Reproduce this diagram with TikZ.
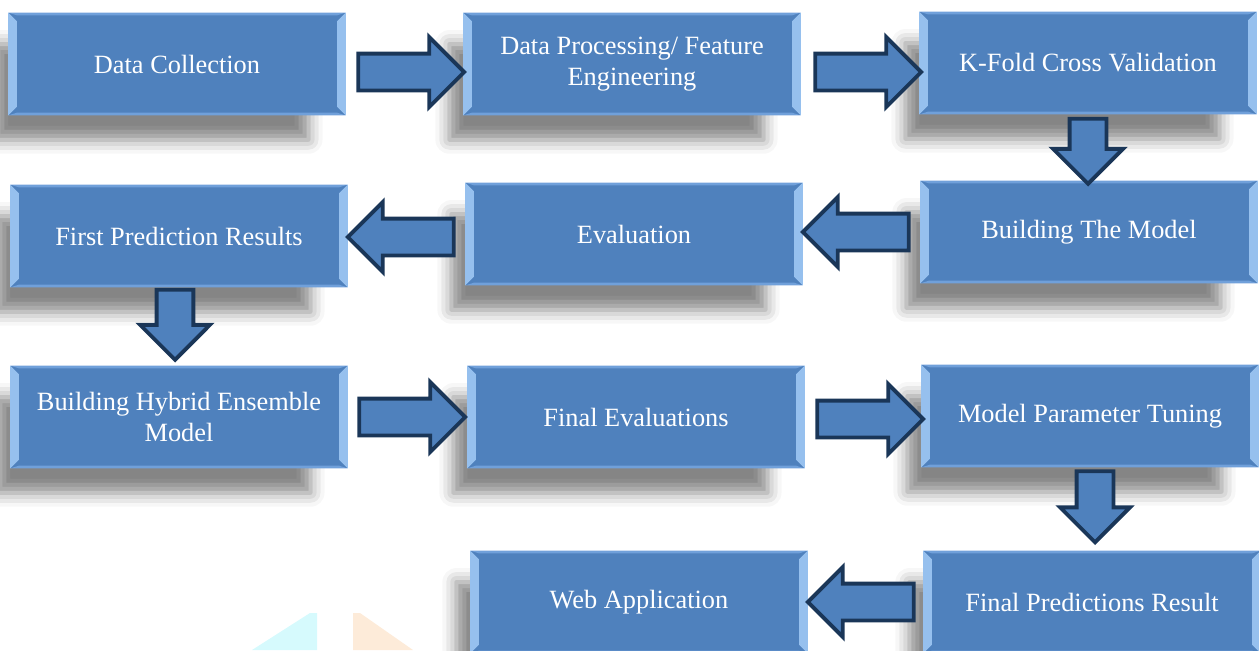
\documentclass[tikz,border=0pt]{standalone}
\usepackage{fontspec}
\setmainfont{Liberation Serif}
\usetikzlibrary{shapes.arrows}
\usetikzlibrary{shadows.blur}
\usetikzlibrary{calc}
\definecolor{boxblue}{RGB}{79,129,189}
\definecolor{bevellight}{RGB}{150,192,238}
\definecolor{bevelmid}{RGB}{112,160,218}
\definecolor{navy}{RGB}{26,54,88}
\definecolor{markcyan}{RGB}{214,250,253}
\definecolor{markpeach}{RGB}{253,235,217}
\newcommand\stagebevel{%
  \coordinate (bnw) at (path picture bounding box.north west);
  \coordinate (bne) at (path picture bounding box.north east);
  \coordinate (bsw) at (path picture bounding box.south west);
  \coordinate (bse) at (path picture bounding box.south east);
  \fill[bevelmid] (bnw) -- (bne) -- ([shift={(-5pt,-1.6pt)}]bne) -- ([shift={(5pt,-1.6pt)}]bnw) -- cycle;
  \fill[bevelmid] (bsw) -- (bse) -- ([shift={(-5pt,1.6pt)}]bse) -- ([shift={(5pt,1.6pt)}]bsw) -- cycle;
  \fill[bevellight] (bnw) -- ([shift={(5pt,-5pt)}]bnw) -- ([shift={(5pt,5pt)}]bsw) -- (bsw) -- cycle;
  \fill[bevellight] (bne) -- ([shift={(-5pt,-5pt)}]bne) -- ([shift={(-5pt,5pt)}]bse) -- (bse) -- cycle;
}

\begin{document}
\begin{tikzpicture}[x=0.02cm,y=-0.02cm]
  \tikzstyle{stage}=[rectangle, fill=boxblue, text=white, minimum width=6.76cm, minimum height=2.06cm,
    inner sep=0pt, align=center, font=\fontsize{15}{17.5}\selectfont,
    blur shadow={shadow xshift=-0.55cm, shadow yshift=-0.6cm, shadow scale=0.93,
      shadow blur radius=0.3cm, shadow opacity=48},
    path picture={\stagebevel}]
  \tikzstyle{flow}=[single arrow, draw=navy, fill=boxblue, line width=2.2pt, inner sep=0.33cm,
    single arrow head extend=0.33cm, single arrow head indent=0pt, anchor=tail]
  \tikzstyle{across}=[flow, minimum height=2.12cm]
  \tikzstyle{back}=[flow, minimum height=2.12cm, shape border rotate=180]
  \tikzstyle{down}=[flow, minimum height=1.4cm, shape border rotate=270]
  \useasboundingbox (0,0) rectangle (1259,650);
  % faint marks at the foot
  \fill[markcyan] (252,650) -- (310,613) -- (317,613) -- (317,650) -- cycle;
  \fill[markpeach] (353,650) -- (353,613) -- (360,613) -- (413,650) -- cycle;
  % stages
  \node (collection) at (177,64) [stage] {Data Collection};
  \node (processing) at (632,64) [stage] {Data Processing/ Feature\\Engineering};
  \node (kfold) at (1088,63) [stage] {K-Fold Cross Validation};
  \node (building) at (1089,232) [stage] {Building The Model};
  \node (evaluation) at (634,234) [stage] {Evaluation};
  \node (firstpred) at (179,236) [stage] {First Prediction Results};
  \node (hybrid) at (179,417) [stage] {Building Hybrid Ensemble\\Model};
  \node (finaleval) at (636,417) [stage] {Final Evaluations};
  \node (tuning) at (1090,416) [stage] {Model Parameter Tuning};
  \node (finalpred) at (1092,602) [stage] {Final Predictions Result};
  \node (webapp) at (639,602) [stage] {Web Application};
  % block arrows, placed by their tails
  \node (go1) at ($(collection.east)+(10,8)$) [across] {};
  \node (go2) at ($(processing.east)+(12,8)$) [across] {};
  \node (go3) at ($(kfold.south)+(0,2)$) [down, minimum height=1.3cm] {};
  \node (go4) at ($(building.west)+(-9,0)$) [back] {};
  \node (go5) at ($(evaluation.west)+(-9,3)$) [back] {};
  \node (go6) at ($(firstpred.south)+(-4,0)$) [down] {};
  \node (go7) at ($(hybrid.east)+(9,0)$) [across] {};
  \node (go8) at ($(finaleval.east)+(10,2)$) [across] {};
  \node (go9) at ($(tuning.south)+(5,1.5)$) [down, minimum height=1.42cm] {};
  \node (go10) at ($(finalpred.west)+(-7,0)$) [back] {};
\end{tikzpicture}
\end{document}
